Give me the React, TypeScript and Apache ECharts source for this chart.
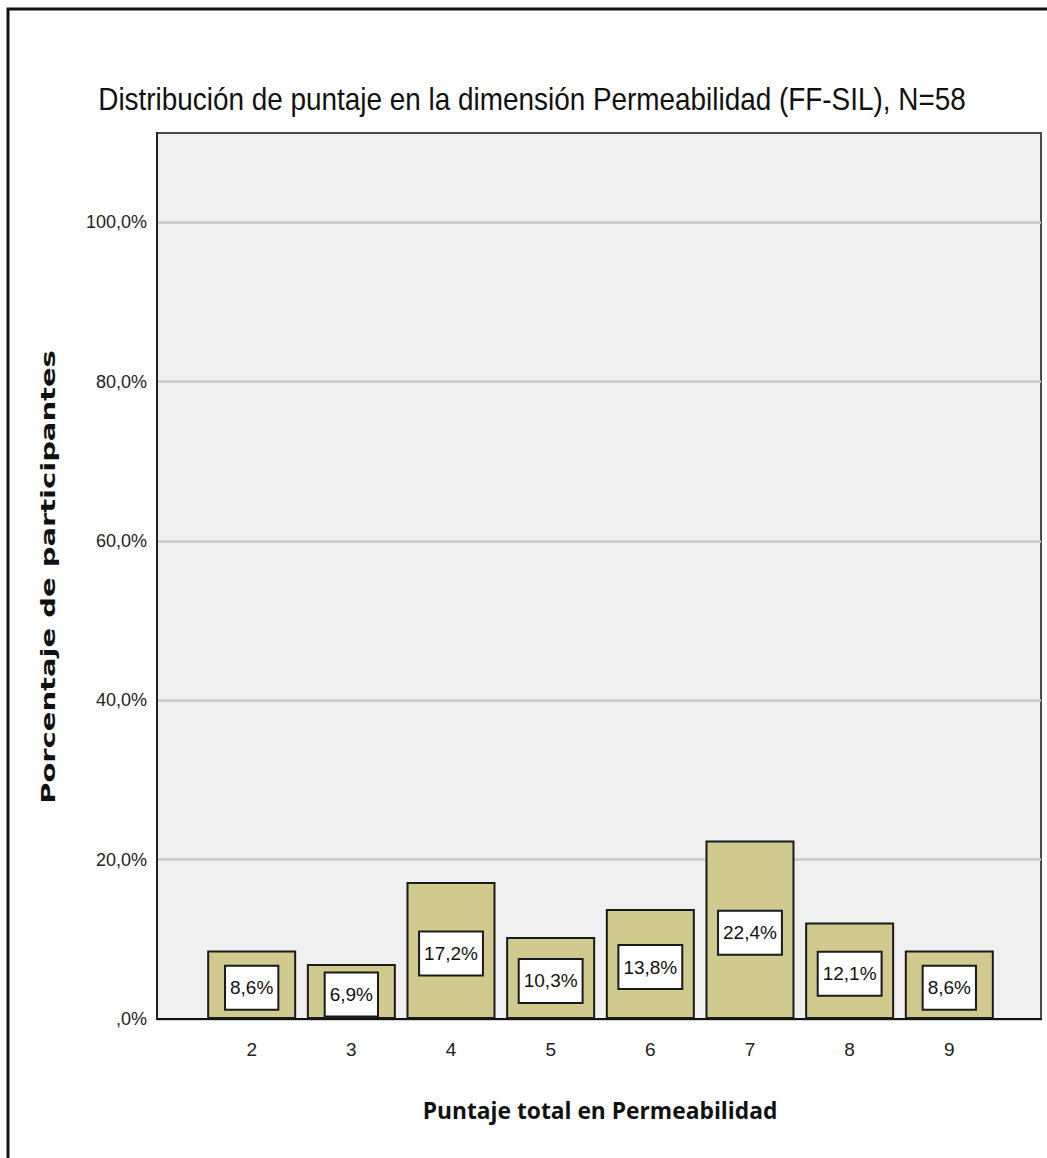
import React, { useEffect, useRef } from "react";
import * as echarts from "echarts";

const scores = [2, 3, 4, 5, 6, 7, 8, 9];
const percents = [8.6, 6.9, 17.2, 10.3, 13.8, 22.4, 12.1, 8.6];
const yTicks = [0, 20, 40, 60, 80, 100];

const titleText = "Distribución de puntaje en la dimensión Permeabilidad (FF-SIL), N=58";
const xName = "Puntaje total en Permeabilidad";
const yName = "Porcentaje de participantes";

const NARROW = "'Liberation Sans Narrow', 'Arial Narrow', 'Liberation Sans', sans-serif";

const fmtPct = (v: number) => {
  if (v === 0) return ",0%";
  return v.toFixed(1).replace(".", ",") + "%";
};

export default function App() {
  const ref = useRef<HTMLDivElement>(null);
  useEffect(() => {
    document.body.style.margin = "0";
    const chart = echarts.init(ref.current!, undefined, { renderer: "svg" });
    chart.setOption({
      animation: false,
      backgroundColor: "#ffffff",
      grid: {
        left: 157,
        top: 133,
        right: 6,
        bottom: 139,
        show: true,
        backgroundColor: "#f0f0f0",
        borderColor: "#4a4a4a",
        borderWidth: 2,
      },
      graphic: [
        {
          type: "rect",
          z: -10,
          shape: { x: 8, y: 9, width: 1100, height: 1200 },
          style: { fill: "none", stroke: "#111", lineWidth: 3 },
        },
        {
          type: "text",
          x: 532,
          y: 99,
          scaleX: 0.9,
          style: {
            text: titleText,
            fontFamily: NARROW,
            fontSize: 31,
            fill: "#111",
            align: "center",
            verticalAlign: "middle",
          },
        },
        {
          type: "text",
          x: 600,
          y: 1110,
          scaleX: 0.95,
          style: {
            text: xName,
            fontFamily: "'Open Sans', sans-serif",
            fontWeight: "bold",
            fontSize: 24,
            fill: "#111",
            align: "center",
            verticalAlign: "middle",
          },
        },
        {
          type: "text",
          x: 48,
          y: 577,
          rotation: Math.PI / 2,
          scaleX: 1.45,
          style: {
            text: yName,
            fontFamily: "'DejaVu Sans', sans-serif",
            fontWeight: "bold",
            fontSize: 20,
            fill: "#111",
            align: "center",
            verticalAlign: "middle",
          },
        },
      ],
      xAxis: {
        type: "value",
        min: 1.05,
        max: 9.92,
        axisLine: { show: true, onZero: false, lineStyle: { color: "#111", width: 2 } },
        axisTick: { show: false },
        splitLine: { show: false },
        axisLabel: {
          customValues: scores,
          formatter: (v: number) => String(v),
          fontFamily: NARROW,
          fontSize: 19,
          color: "#222",
          margin: 21,
        },
      },
      yAxis: {
        type: "value",
        min: 0,
        max: 111.2,
        axisLine: { show: true, lineStyle: { color: "#222", width: 2 } },
        axisTick: { show: false, customValues: yTicks },
        splitLine: { show: true, lineStyle: { color: "#c8c8c8", width: 2.5 } },
        axisLabel: {
          customValues: yTicks,
          formatter: (v: number) => fmtPct(v),
          fontFamily: NARROW,
          fontSize: 18,
          color: "#222",
          margin: 10,
        },
      },
      series: [
        {
          type: "bar",
          barWidth: 89,
          data: scores.map((s, i) => [s, percents[i]]),
          itemStyle: { color: "#d0ca8e", borderColor: "#1a1a1a", borderWidth: 2 },
          label: {
            show: true,
            position: "inside",
            offset: [0, 3],
            formatter: (p: any) => fmtPct(p.value[1]),
            fontFamily: NARROW,
            fontSize: 19,
            color: "#111",
            backgroundColor: "#ffffff",
            borderColor: "#1a1a1a",
            borderWidth: 2,
            padding: [12, 4, 11, 4],
          },
        },
      ],
    });
    return () => chart.dispose();
  }, []);
  return <div ref={ref} style={{ width: 1047, height: 1158 }} />;
}
